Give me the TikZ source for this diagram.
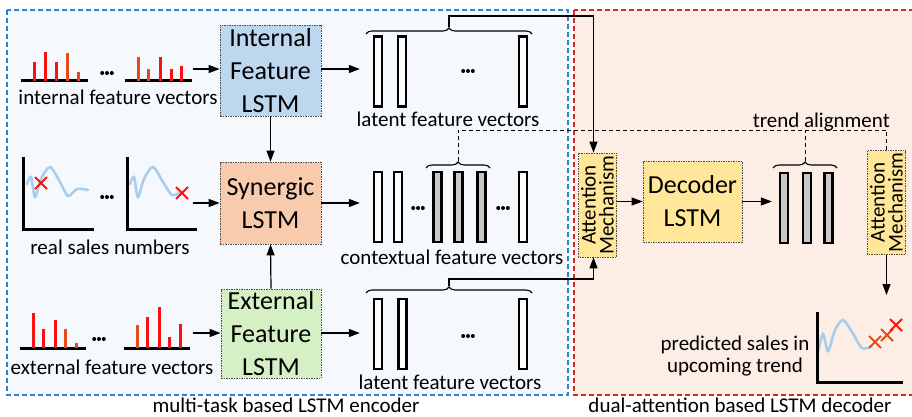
\documentclass[tikz,border=0pt]{standalone}
\usepackage{fontspec}
\setmainfont{Carlito}
\usetikzlibrary{decorations.pathreplacing,arrows.meta}

\definecolor{encfill}{HTML}{F5F9FE}
\definecolor{encline}{HTML}{2F80C8}
\definecolor{decfill}{HTML}{FDEEE5}
\definecolor{decline}{HTML}{D8232A}
\definecolor{intfill}{HTML}{BDD7EE}
\definecolor{synfill}{HTML}{F8CBAD}
\definecolor{extfill}{HTML}{D5F0C5}
\definecolor{attfill}{HTML}{FFE699}
\definecolor{wave}{HTML}{AACDEB}
\definecolor{vecgray}{HTML}{C8C8C8}
\definecolor{barred}{HTML}{FF1010}
\definecolor{barorange}{HTML}{E64A19}

\newcommand\bigtxt{\fontsize{26}{33}\selectfont}
\newcommand\smalltxt{\fontsize{21}{22}\selectfont}
\newcommand\atttxt{\fontsize{21}{18}\selectfont}

\tikzset{
  lstmbox/.style={draw=black!70, dash pattern=on 1.5pt off 1pt, line width=0.8pt,
    align=center, font=\bigtxt, inner sep=0pt},
  attbox/.style={lstmbox, fill=attfill, font=\atttxt, rotate=90,
    minimum width=104, minimum height=38},
  vecbox/.style={draw, line width=2.3pt, fill=white, minimum width=8,
    minimum height=70, inner sep=0pt},
  grayvec/.style={vecbox, fill=vecgray},
  lbl/.style={font=\smalltxt, inner sep=0pt},
  arr/.style={line width=1.2pt, -{Triangle[length=11pt,width=8pt]}},
  trend/.style={line width=1pt, dash pattern=on 4pt off 3pt},
  curlybrace/.style={line width=1.1pt, decorate,
    decoration={brace, amplitude=6pt}},
  bar/.style={line width=3pt, barred},
  obar/.style={line width=3pt, barorange},
  axis/.style={line width=3pt},
  salescurve/.style={wave, line width=2.6pt, line cap=round},
  ellip/.pic={\foreach \i in {-4.8,0,4.8} \fill (\i,0) circle (2);},
  xmark/.pic={\draw[barred, line width=1.8pt] (-6,-6) -- (6,6) (-6,6) -- (6,-6);},
  oxmark/.pic={\draw[barorange, line width=1.8pt] (-6,-6) -- (6,6) (-6,6) -- (6,-6);}
}

\begin{document}
\begin{tikzpicture}[x=1pt, y=-1pt]
\useasboundingbox (0,0) rectangle (912,417);

% encoder and decoder regions
\draw[encline, fill=encfill, line width=1.5pt, dash pattern=on 5pt off 3pt]
  (7,10) rectangle (568,395);
\draw[decline, fill=decfill, line width=1.5pt, dash pattern=on 5pt off 3pt]
  (574,10) rectangle (915,395);
\node[lbl, anchor=base] (enclbl) at (286,412) {multi-task based LSTM encoder};
\node[lbl, anchor=base] (declbl) at (740,412) {dual-attention based LSTM decoder};

% LSTM blocks
\node[lstmbox, fill=intfill, minimum width=101, minimum height=91]
  (ilstm) at (270.5,70.5) {Internal\\Feature\\LSTM};
\node[lstmbox, fill=synfill, minimum width=101, minimum height=82]
  (slstm) at (270.5,203) {Synergic\\LSTM};
\node[lstmbox, fill=extfill, minimum width=100, minimum height=89]
  (elstm) at (271,333.5) {External\\Feature\\LSTM};
\node[lstmbox, fill=attfill, minimum width=99, minimum height=81]
  (dec) at (692.5,201.5) {Decoder\\LSTM};
\node[attbox] (att1) at (597.5,205) {Attention\\Mechanism};
\node[attbox] (att2) at (886.5,202.5) {Attention\\Mechanism};

% internal feature vectors
\draw[axis] (21,81) -- (88,81);
\draw[bar] (34,81) -- (34,62);
\draw[bar] (45,81) -- (45,52);
\draw[bar] (56,81) -- (56,62);
\draw[obar] (67,81) -- (67,53);
\draw[obar] (78,81) -- (78,72);
\pic at (107,73) {ellip};
\draw[axis] (125,81) -- (192,81);
\draw[obar] (138,81) -- (138,57);
\draw[obar] (148,81) -- (148,69);
\draw[bar] (160,81) -- (160,57);
\draw[bar] (171,81) -- (171,69);
\draw[bar] (181,81) -- (181,66);
\node[lbl] (intlbl) at (118,97) {internal feature vectors};

% real sales numbers
\draw[salescurve] plot[smooth] coordinates
  {(27,184) (31,177) (35,197) (41,179) (50,167) (60,182) (68,196) (77,189) (88,190)};
\draw[axis] (23,157) -- (23,229) -- (94,229);
\pic at (41,183) {xmark};
\pic at (107,197) {ellip};
\draw[salescurve] plot[smooth] coordinates
  {(130,184) (134,177) (138,197) (144,179) (153,167) (163,182) (172,195) (181,192)};
\draw[axis] (127,157) -- (127,229) -- (197,229);
\pic at (182,193) {xmark};
\node[lbl] (saleslbl) at (110,247) {real sales numbers};

% external feature vectors
\draw[axis] (20,348) -- (86,348);
\draw[bar] (33,348) -- (33,313);
\draw[bar] (43,348) -- (43,329);
\draw[bar] (55,348) -- (55,320);
\draw[obar] (65,348) -- (65,329);
\draw[obar] (76,348) -- (76,343);
\pic at (99,339) {ellip};
\draw[axis] (124,348) -- (190,348);
\draw[obar] (137,348) -- (137,325);
\draw[bar] (147,348) -- (147,317);
\draw[bar] (159,348) -- (159,307);
\draw[bar] (169,348) -- (169,337);
\draw[bar] (180,348) -- (180,324);
\node[lbl] (extlbl) at (112,367) {external feature vectors};

% input arrows
\coordinate (inI) at (193,69);
\coordinate (inS) at (193,203);
\coordinate (inE) at (193,333);
\draw[arr] (inI) -- (inI -| ilstm.west);
\draw[arr] (inS) -- (inS -| slstm.west);
\draw[arr] (inE) -- (inE -| elstm.west);
\draw[arr] (ilstm.south) -- (slstm.north);
\draw[arr] (elstm.north) -- (slstm.south);

% latent feature vectors (internal)
\node[vecbox] (l1) at (378,71.5) {};
\node[vecbox] (l2) at (402,71.5) {};
\node[vecbox] (l3) at (523,71.5) {};
\pic at (468,71) {ellip};
\node[lbl] (lat1lbl) at (448,119) {latent feature vectors};

% contextual feature vectors
\node[vecbox] (c1) at (378,207) {};
\node[vecbox] (c2) at (398,207) {};
\node[grayvec] (c3) at (437.5,207) {};
\node[grayvec] (c4) at (458.5,207) {};
\node[grayvec] (c5) at (481.5,207) {};
\node[vecbox] (c6) at (523,207) {};
\pic at (418,208) {ellip};
\pic at (503,208) {ellip};
\node[lbl] (ctxlbl) at (452,257) {contextual feature vectors};

% latent feature vectors (external)
\node[vecbox] (e1) at (378,334) {};
\node[vecbox] (e2) at (402.5,334) {};
\node[vecbox] (e3) at (523,334) {};
\pic at (468,336) {ellip};
\node[lbl] (lat2lbl) at (450,382) {latent feature vectors};

% decoder output vectors
\node[grayvec] (d1) at (784,208) {};
\node[grayvec] (d2) at (807,208) {};
\node[grayvec] (d3) at (828.5,208) {};

% arrows into the vector columns
\draw[arr] (ilstm.east |- 0,69) -- ([xshift=-13pt]l1.west |- 0,69);
\draw[arr] (slstm.east) -- ([xshift=-13pt]c1.west |- slstm.east);
\draw[arr] (elstm.east |- 0,333) -- ([xshift=-13pt]e1.west |- 0,333);
\draw[arr] (att1.south |- dec.west) -- (dec.west);
\draw[arr] (dec.east) -- ([xshift=-7pt]d1.west |- dec.east);

% braces and links to the attention blocks
\draw[curlybrace] (366,34) -- (532,34);
\coordinate (tb) at (449,27);
\draw[arr] (tb) -- (tb |- 0,16) -| ([xshift=-4pt]att1.east);
\draw[curlybrace] (366,293) -- (532,293);
\coordinate (bb) at (449,286);
\draw[arr] (bb) -- (bb |- 0,279) -| ([xshift=-4pt]att1.west);
\draw[curlybrace] (426,168) -- (490,168);
\coordinate (cb) at (458,161);
\draw[curlybrace] (773,168) -- (837,168);
\coordinate (db) at (805,161);
\draw[trend] (cb) -- (cb |- 0,130) -| (att2.east);
\draw[trend] (db) -- (db |- 0,130);
\node[lbl, anchor=south east] (trendlbl) at (890,131) {trend alignment};

% predicted sales
\coordinate (predtop) at (886.5,295);
\draw[arr] (att2.west) -- (predtop);
\draw[salescurve] plot[smooth] coordinates
  {(818,352) (823,334) (828,351) (835,330) (843,320) (852,332) (862,348) (872,346)};
\draw[axis] (817,312) -- (817,382) -- (903,382);
\pic at (875,342) {oxmark};
\pic at (887,335) {oxmark};
\pic at (896,325) {xmark};
\node[lbl, align=center] (predlbl) at (735,356) {predicted sales in\\upcoming trend};
\end{tikzpicture}
\end{document}
